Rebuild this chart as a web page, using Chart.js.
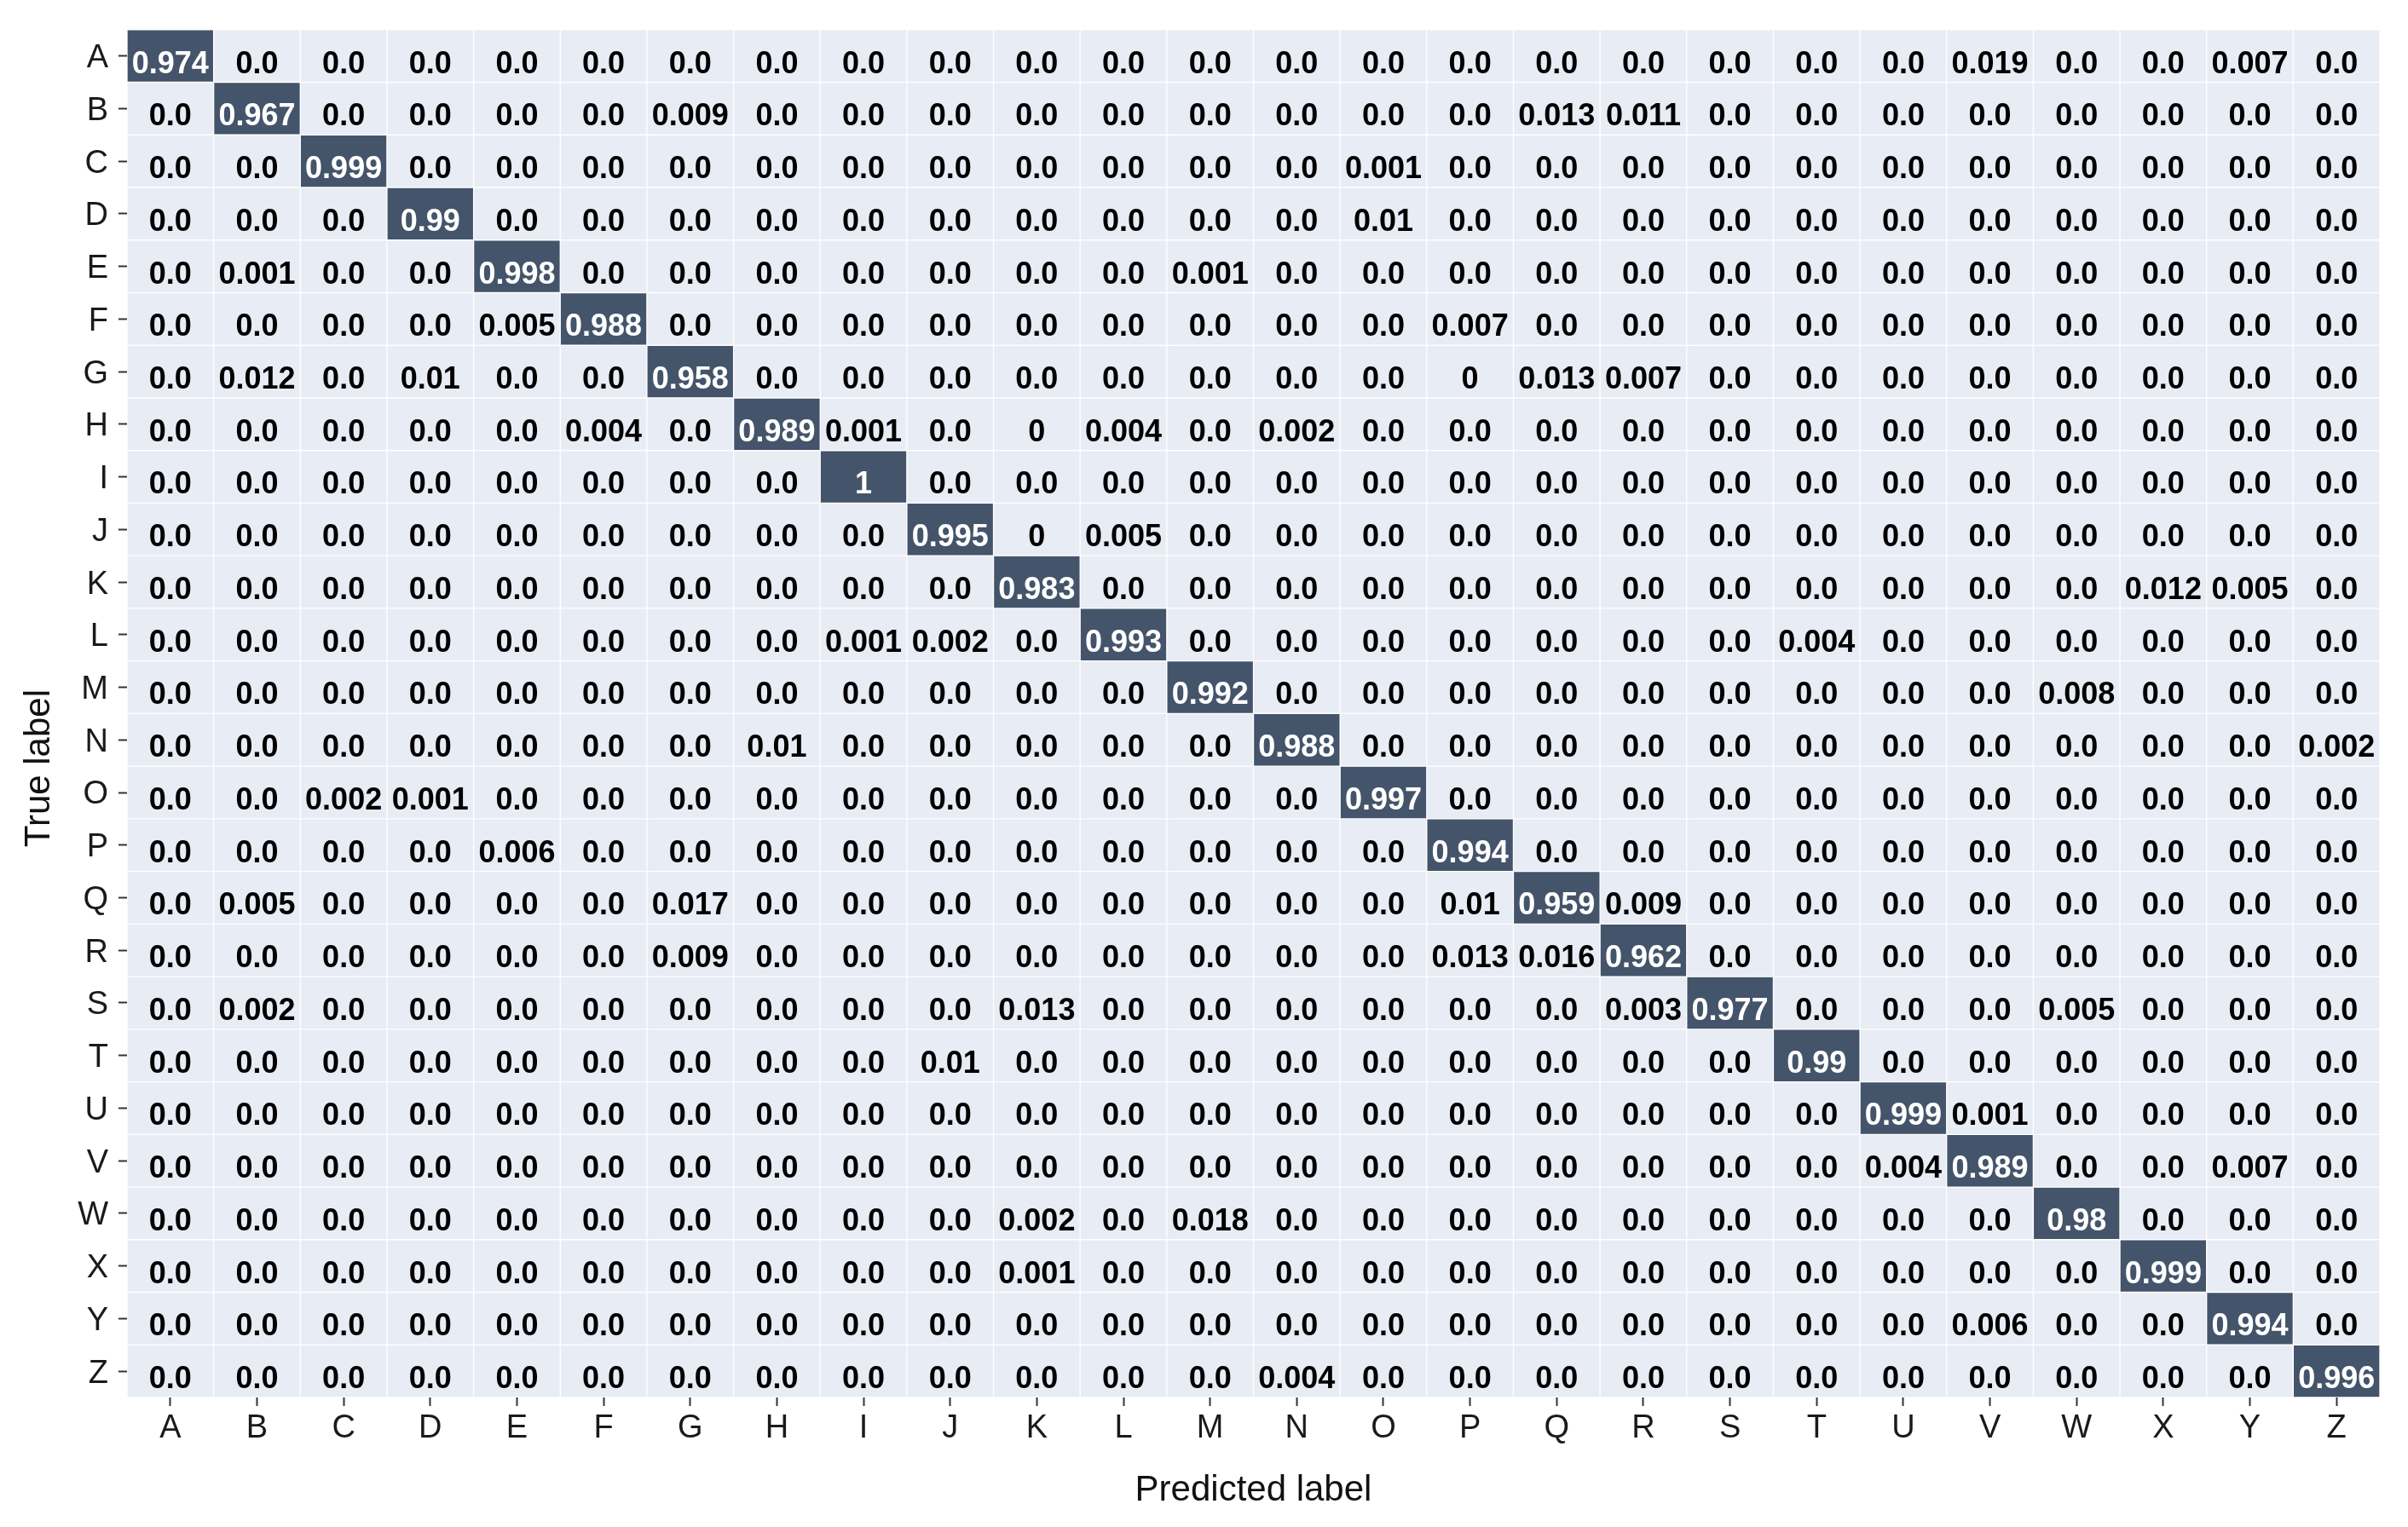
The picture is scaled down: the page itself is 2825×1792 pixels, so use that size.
<!DOCTYPE html>
<html>
<head>
<meta charset="utf-8">
<script src="https://cdn.jsdelivr.net/npm/chart.js@4.4.1/dist/chart.umd.min.js"></script>
<style>
  html, body { margin: 0; padding: 0; background: #ffffff; }
  #wrap { width: 2825px; height: 1792px; }
</style>
</head>
<body>
<div id="wrap"><canvas id="chartConfusion"></canvas></div>
<script>
const letters = ['A','B','C','D','E','F','G','H','I','J','K','L','M','N','O','P','Q','R','S','T','U','V','W','X','Y','Z'];

// one row per true label, one value per predicted label (A..Z)
//            A      B      C      D      E      F      G      H      I      J      K      L      M      N      O      P      Q      R      S      T      U      V      W      X      Y      Z
const rowA = [0.974, 0,     0,     0,     0,     0,     0,     0,     0,     0,     0,     0,     0,     0,     0,     0,     0,     0,     0,     0,     0,     0.019, 0,     0,     0.007, 0];
const rowB = [0,     0.967, 0,     0,     0,     0,     0.009, 0,     0,     0,     0,     0,     0,     0,     0,     0,     0.013, 0.011, 0,     0,     0,     0,     0,     0,     0,     0];
const rowC = [0,     0,     0.999, 0,     0,     0,     0,     0,     0,     0,     0,     0,     0,     0,     0.001, 0,     0,     0,     0,     0,     0,     0,     0,     0,     0,     0];
const rowD = [0,     0,     0,     0.99,  0,     0,     0,     0,     0,     0,     0,     0,     0,     0,     0.01,  0,     0,     0,     0,     0,     0,     0,     0,     0,     0,     0];
const rowE = [0,     0.001, 0,     0,     0.998, 0,     0,     0,     0,     0,     0,     0,     0.001, 0,     0,     0,     0,     0,     0,     0,     0,     0,     0,     0,     0,     0];
const rowF = [0,     0,     0,     0,     0.005, 0.988, 0,     0,     0,     0,     0,     0,     0,     0,     0,     0.007, 0,     0,     0,     0,     0,     0,     0,     0,     0,     0];
const rowG = [0,     0.012, 0,     0.01,  0,     0,     0.958, 0,     0,     0,     0,     0,     0,     0,     0,     0,     0.013, 0.007, 0,     0,     0,     0,     0,     0,     0,     0];
const rowH = [0,     0,     0,     0,     0,     0.004, 0,     0.989, 0.001, 0,     0,     0.004, 0,     0.002, 0,     0,     0,     0,     0,     0,     0,     0,     0,     0,     0,     0];
const rowI = [0,     0,     0,     0,     0,     0,     0,     0,     1,     0,     0,     0,     0,     0,     0,     0,     0,     0,     0,     0,     0,     0,     0,     0,     0,     0];
const rowJ = [0,     0,     0,     0,     0,     0,     0,     0,     0,     0.995, 0,     0.005, 0,     0,     0,     0,     0,     0,     0,     0,     0,     0,     0,     0,     0,     0];
const rowK = [0,     0,     0,     0,     0,     0,     0,     0,     0,     0,     0.983, 0,     0,     0,     0,     0,     0,     0,     0,     0,     0,     0,     0,     0.012, 0.005, 0];
const rowL = [0,     0,     0,     0,     0,     0,     0,     0,     0.001, 0.002, 0,     0.993, 0,     0,     0,     0,     0,     0,     0,     0.004, 0,     0,     0,     0,     0,     0];
const rowM = [0,     0,     0,     0,     0,     0,     0,     0,     0,     0,     0,     0,     0.992, 0,     0,     0,     0,     0,     0,     0,     0,     0,     0.008, 0,     0,     0];
const rowN = [0,     0,     0,     0,     0,     0,     0,     0.01,  0,     0,     0,     0,     0,     0.988, 0,     0,     0,     0,     0,     0,     0,     0,     0,     0,     0,     0.002];
const rowO = [0,     0,     0.002, 0.001, 0,     0,     0,     0,     0,     0,     0,     0,     0,     0,     0.997, 0,     0,     0,     0,     0,     0,     0,     0,     0,     0,     0];
const rowP = [0,     0,     0,     0,     0.006, 0,     0,     0,     0,     0,     0,     0,     0,     0,     0,     0.994, 0,     0,     0,     0,     0,     0,     0,     0,     0,     0];
const rowQ = [0,     0.005, 0,     0,     0,     0,     0.017, 0,     0,     0,     0,     0,     0,     0,     0,     0.01,  0.959, 0.009, 0,     0,     0,     0,     0,     0,     0,     0];
const rowR = [0,     0,     0,     0,     0,     0,     0.009, 0,     0,     0,     0,     0,     0,     0,     0,     0.013, 0.016, 0.962, 0,     0,     0,     0,     0,     0,     0,     0];
const rowS = [0,     0.002, 0,     0,     0,     0,     0,     0,     0,     0,     0.013, 0,     0,     0,     0,     0,     0,     0.003, 0.977, 0,     0,     0,     0.005, 0,     0,     0];
const rowT = [0,     0,     0,     0,     0,     0,     0,     0,     0,     0.01,  0,     0,     0,     0,     0,     0,     0,     0,     0,     0.99,  0,     0,     0,     0,     0,     0];
const rowU = [0,     0,     0,     0,     0,     0,     0,     0,     0,     0,     0,     0,     0,     0,     0,     0,     0,     0,     0,     0,     0.999, 0.001, 0,     0,     0,     0];
const rowV = [0,     0,     0,     0,     0,     0,     0,     0,     0,     0,     0,     0,     0,     0,     0,     0,     0,     0,     0,     0,     0.004, 0.989, 0,     0,     0.007, 0];
const rowW = [0,     0,     0,     0,     0,     0,     0,     0,     0,     0,     0.002, 0,     0.018, 0,     0,     0,     0,     0,     0,     0,     0,     0,     0.98,  0,     0,     0];
const rowX = [0,     0,     0,     0,     0,     0,     0,     0,     0,     0,     0.001, 0,     0,     0,     0,     0,     0,     0,     0,     0,     0,     0,     0,     0.999, 0,     0];
const rowY = [0,     0,     0,     0,     0,     0,     0,     0,     0,     0,     0,     0,     0,     0,     0,     0,     0,     0,     0,     0,     0,     0.006, 0,     0,     0.994, 0];
const rowZ = [0,     0,     0,     0,     0,     0,     0,     0,     0,     0,     0,     0,     0,     0.004, 0,     0,     0,     0,     0,     0,     0,     0,     0,     0,     0,     0.996];

const matrix = [rowA, rowB, rowC, rowD, rowE, rowF, rowG, rowH, rowI, rowJ, rowK, rowL, rowM,
                rowN, rowO, rowP, rowQ, rowR, rowS, rowT, rowU, rowV, rowW, rowX, rowY, rowZ];

// cells printed as a bare "0" instead of "0.0" (true label, predicted label)
const plainZero = [['G', 'P'], ['H', 'K'], ['J', 'K']];

const darkCell = '#44546a';
const lightCell = '#e8ecf4';
const fontFamily = '"Liberation Sans", Arial, sans-serif';

function cellLabel(r, c, v) {
  if (v !== 0) return String(v);
  const plain = plainZero.some(p => p[0] === letters[r] && p[1] === letters[c]);
  return plain ? '0' : '0.0';
}

// one floating bar per cell, each row spanning [r, r+1] on the y scale
const datasets = matrix.map((row, r) => ({
  label: letters[r],
  data: row.map(() => [r, r + 1]),
  backgroundColor: row.map(v => v > 0.5 ? darkCell : lightCell),
  borderColor: '#ffffff',
  borderWidth: 1,
  borderSkipped: false,
  grouped: false,
  barPercentage: 1,
  categoryPercentage: 1
}));

const cellText = {
  id: 'cellText',
  afterDatasetsDraw(chart) {
    const { ctx, scales: { x, y } } = chart;
    ctx.save();
    ctx.font = 'bold 36px ' + fontFamily;
    ctx.textAlign = 'center';
    ctx.textBaseline = 'middle';
    matrix.forEach((row, r) => {
      row.forEach((v, c) => {
        ctx.fillStyle = v > 0.5 ? '#ffffff' : '#000000';
        ctx.fillText(cellLabel(r, c, v), x.getPixelForValue(c), y.getPixelForValue(r + 0.5) + 10);
      });
    });
    ctx.restore();
  }
};

Chart.defaults.font.family = fontFamily;

const ctx = document.getElementById('chartConfusion');

new Chart(ctx, {
  type: 'bar',
  data: {
    labels: letters,
    datasets: datasets
  },
  options: {
    responsive: true,
    maintainAspectRatio: false,
    devicePixelRatio: 1,
    animation: false,
    layout: {
      padding: { left: 0, top: 33, right: 33, bottom: 0 }
    },
    plugins: {
      legend: { display: false },
      tooltip: { enabled: false }
    },
    scales: {
      x: {
        type: 'category',
        offset: true,
        afterFit: axis => { axis.height = 152; },
        ticks: {
          color: '#1a1a1a',
          font: { size: 38 },
          padding: 4,
          maxRotation: 0,
          autoSkip: false
        },
        grid: {
          drawOnChartArea: false,
          offset: false,
          tickLength: 10,
          tickWidth: 2,
          tickColor: '#333333'
        },
        border: { display: false },
        title: {
          display: true,
          text: 'Predicted label',
          color: '#111111',
          font: { size: 42 },
          padding: { top: 0, bottom: 17 }
        }
      },
      y: {
        type: 'linear',
        min: 0,
        max: 26,
        reverse: true,
        afterBuildTicks: axis => {
          axis.ticks = letters.map((l, i) => ({ value: i + 0.5 }));
        },
        afterFit: axis => { axis.width = 149; },
        ticks: {
          color: '#1a1a1a',
          font: { size: 38 },
          padding: 12,
          labelOffset: 3,
          autoSkip: false,
          callback: v => letters[Math.floor(v)]
        },
        grid: {
          drawOnChartArea: false,
          tickLength: 10,
          tickWidth: 2,
          tickColor: '#333333'
        },
        border: { display: false },
        title: {
          display: true,
          // trailing spaces push the title a little below the panel centre, as in the original
          text: 'True label           ',
          color: '#111111',
          font: { size: 42 },
          padding: { top: 21, bottom: 0 }
        }
      }
    }
  },
  plugins: [cellText]
});
</script>
</body>
</html>
